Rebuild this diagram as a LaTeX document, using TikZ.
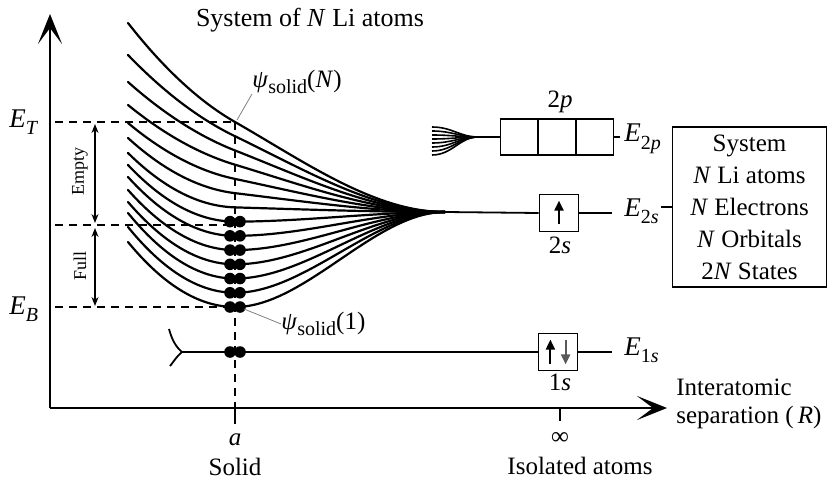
\documentclass[tikz,border=0pt]{standalone}
\usepackage{fontspec}
\setmainfont{Liberation Serif}
\usetikzlibrary{arrows.meta}
\begin{document}
\begin{tikzpicture}[x=0.5pt,y=-0.5pt,
  axis/.style={line width=1.4pt,-{Stealth[length=15pt,width=12pt,inset=8pt]}},
  curve/.style={line width=1.1pt,line cap=round},
  dashline/.style={line width=0.6pt,dash pattern=on 4pt off 3pt},
  thinline/.style={line width=0.9pt},
  leader/.style={line width=0.4pt,gray},
  dotst/.style={fill=black,draw=none},
  orbbox/.style={draw,line width=0.9pt,minimum width=19.5pt,minimum height=18.5pt,inner sep=0pt},
  lbl/.style={font=\fontsize{12.5}{14}\selectfont,inner sep=0pt},
  elbl/.style={font=\fontsize{13.5}{15}\selectfont,inner sep=0pt,anchor=west},
  smalllbl/.style={font=\fontsize{9}{10}\selectfont,inner sep=0pt,rotate=90},
  dbl/.style={line width=0.7pt,{Stealth[length=4.5pt,width=3.5pt]}-{Stealth[length=4.5pt,width=3.5pt]}},
  spin/.style={line width=1pt,-{Triangle[length=5pt,width=4.5pt]}}
]
\useasboundingbox (0,0) rectangle (828,486);

% coordinates
\coordinate (origin) at (50,408);
\coordinate (ytip) at (50,14);
\coordinate (xtip) at (667,408);
\coordinate (ET) at (235,122);
\coordinate (EM) at (235,225);
\coordinate (EB) at (235,307);
\coordinate (ETl) at (55,122);
\coordinate (EMl) at (55,225);
\coordinate (EBl) at (55,307);
\coordinate (atick) at (235,424);
\coordinate (inftick) at (560,408);
\coordinate (inftickb) at (560,421);
\coordinate (conv) at (445,212);

% axes
\draw[axis] (origin) -- (ytip);
\draw[axis] (origin) -- (xtip);

% dashed guides
\draw[dashline] (ETl) -- (ET);
\draw[dashline] (EMl) -- (EM);
\draw[dashline] (EBl) -- (EB);
\draw[dashline] (ET) -- (235,408);
\draw[thinline] (235,408) -- (atick);
\draw[thinline] (inftick) -- (inftickb);

% Empty / Full arrows
\draw[dbl] (95,124) -- (95,223);
\draw[dbl] (95,228) -- (95,306);
\node[smalllbl] (empty) at (80,172) {Empty};
\node[smalllbl] (full) at (80,266) {Full};

% energy labels
\node[elbl] (ETlab) at (9,122) {\textit{E}\raisebox{-0.55ex}{\fontsize{10}{10}\selectfont\textit{T}}};
\node[elbl] (EBlab) at (9,309) {\textit{E}\raisebox{-0.55ex}{\fontsize{10}{10}\selectfont\textit{B}}};

% band curves
\foreach \i/\yo in {0/23,1/55,2/82,3/105,4/123,5/138,6/153,7/165,8/177,9/190,10/202,11/213,12/227,13/242} {
  \pgfmathsetmacro\yb{122+185*\i/13}
  \pgfmathsetmacro\kk{ifthenelse(\i<7, 0.00636*(212-\yb), 0)}
  \pgfmathsetmacro\cc{\yo-\yb+107*\kk}
  \draw[curve] plot[domain=1:0,samples=30,smooth] ({235-107*\x},{\yb-107*\kk*\x+\cc*\x*\x})
     -- plot[domain=0:1,samples=40,smooth] ({235+210*\x},{(2*\x*\x*\x-3*\x*\x+1)*\yb+(\x*\x*\x-2*\x*\x+\x)*210*\kk+(-2*\x*\x*\x+3*\x*\x)*212});
  \ifnum\i>6
    \fill[dotst] (230,\yb) circle (2.9pt);
    \fill[dotst] (240,\yb) circle (2.9pt);
  \fi
}

% title
\node[lbl,font=\fontsize{13}{15}\selectfont] (title) at (310,20) {System of \textit{N} Li atoms};

% psi labels
\node[lbl,anchor=south west] (psiN) at (252,94) {\textit{ψ}\raisebox{-0.5ex}{\fontsize{10}{10}\selectfont solid}(\textit{N})};
\draw[leader] (237,120) -- (psiN.south west);
\node[lbl,anchor=south west] (psi1) at (281,336) {\textit{ψ}\raisebox{-0.5ex}{\fontsize{10}{10}\selectfont solid}(1)};
\draw[leader] (244,309) -- (psi1.west);

% 2s level
\node[orbbox] (box2s) at (559,213) {};
\draw[thinline] (conv) -- (box2s.west);
\draw[spin] ([yshift=4pt]box2s.south) -- ([yshift=-3.5pt]box2s.north);
\coordinate (r2s) at (612,213);
\draw[thinline] (box2s.east) -- (r2s);
\node[lbl] (lab2s) at (560,245) {2\textit{s}};
\node[elbl] (E2s) at (624,211) {\textit{E}\raisebox{-0.6ex}{\fontsize{10}{10}\selectfont 2\textit{s}}};

% 2p level
\node[draw,line width=0.9pt,minimum width=56.5pt,minimum height=18pt,inner sep=0pt] (box2p) at (557,137) {};
\draw[line width=0.9pt] ([xshift=-9.5pt]box2p.north) -- ([xshift=-9.5pt]box2p.south);
\draw[line width=0.9pt] ([xshift=9.5pt]box2p.north) -- ([xshift=9.5pt]box2p.south);
\coordinate (fanend) at (478,137);
\foreach \yy in {127,131,135,139,143,147,151,155} {
  \draw[line width=0.8pt] (432,\yy) .. controls (452,\yy) and (460,137) .. (fanend);
}
\draw[thinline] (fanend) -- (box2p.west);
\draw[thinline] (box2p.east) -- ++(3pt,0);
\node[lbl] (lab2p) at (560,102) {2\textit{p}};
\node[elbl] (E2p) at (624,139) {\textit{E}\raisebox{-0.6ex}{\fontsize{10}{10}\selectfont 2\textit{p}}};

% 1s level
\coordinate (fork) at (182,352);
\node[orbbox] (box1s) at (558,352) {};
\draw[thinline] (fork) -- (box1s.west);
\draw[thinline] (fork) .. controls (176,347) and (172,340) .. (169,329);
\draw[thinline] (fork) .. controls (176,357) and (172,364) .. (170,366);
\fill[dotst] (230,352) circle (2.9pt);
\fill[dotst] (240,352) circle (2.9pt);
\draw[spin] ([xshift=-3.8pt,yshift=3.5pt]box1s.south) -- ([xshift=-3.8pt,yshift=-3.5pt]box1s.north);
\draw[spin,black!65] ([xshift=3.8pt,yshift=-3.5pt]box1s.north) -- ([xshift=3.8pt,yshift=3.5pt]box1s.south);
\coordinate (r1s) at (612,352);
\draw[thinline] (box1s.east) -- (r1s);
\node[lbl] (lab1s) at (560,382) {1\textit{s}};
\node[elbl] (E1s) at (624,350) {\textit{E}\raisebox{-0.6ex}{\fontsize{10}{10}\selectfont 1\textit{s}}};

% system box
\node[draw,line width=0.9pt,minimum width=77pt,minimum height=80pt,inner sep=0pt,align=center,font=\fontsize{12.5}{16}\selectfont] (sysbox) at (749.5,207)
  {System\\\textit{N} Li atoms\\\textit{N} Electrons\\\textit{N} Orbitals\\2\textit{N} States};
\draw[thinline] ([xshift=15pt]E2s.east |- sysbox.west) ++(-14pt,0) -- (sysbox.west);

% x-axis labels
\node[lbl] (alab) at (235,440) {\textit{a}};
\node[lbl] (solid) at (235,467) {Solid};
\node[lbl] (inf) at (560,438) {∞};
\node[lbl] (iso) at (580,466) {Isolated atoms};
\node[lbl,anchor=west,align=left] (sep) at (676,404) {Interatomic\\separation (\,\textit{R})};
\end{tikzpicture}
\end{document}
